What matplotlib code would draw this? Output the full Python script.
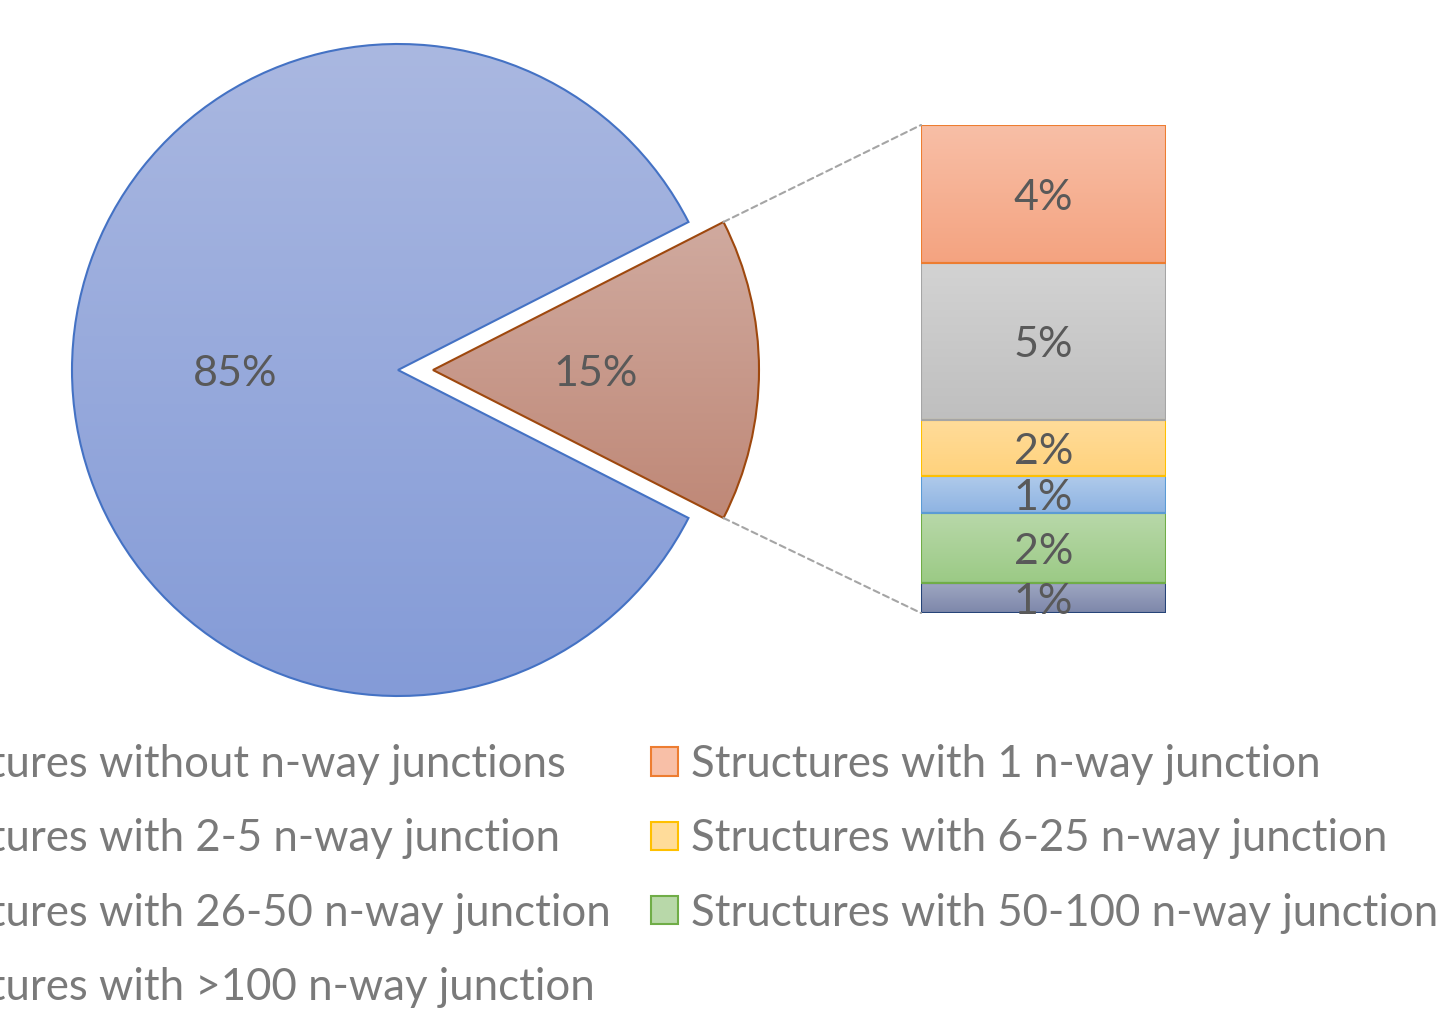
import matplotlib.pyplot as plt
import numpy as np
from matplotlib.patches import ConnectionPatch, Patch
from matplotlib.colors import to_rgb

plt.rcParams['font.family'] = ['Lato', 'DejaVu Sans']

# main pie: structures with / without n-way junctions
pie_labels = ['Structures with n-way junctions', 'Structures without n-way junctions']
pie_values = [15, 85]

# breakdown of the 15% (top to bottom in the bar)
bar_labels = ['Structures with 1 n-way junction', 'Structures with 2-5 n-way junction',
              'Structures with 6-25 n-way junction', 'Structures with 26-50 n-way junction',
              'Structures with 50-100 n-way junction', 'Structures with >100 n-way junction']
bar_values = [4.25, 4.83, 1.72, 1.14, 2.15, 0.92]

# (top, bottom, edge) colours
pie_colors = [('#d0aa9f', '#bf8877', '#9e480e'), ('#aab8e1', '#849bd7', '#4472c4')]
bar_colors = [('#f8bfa7', '#f4a380', '#ed7d31'),
              ('#d3d3d3', '#bfbfbf', '#a5a5a5'),
              ('#ffdc9a', '#ffd27c', '#ffc000'),
              ('#b0cbeb', '#8eb3e2', '#5b9bd5'),
              ('#b8d8a9', '#9bca85', '#70ad47'),
              ('#9ea6c1', '#7d87aa', '#264478')]

W, H = 1440, 1010
PX = 326  # pixels per pie radius


def gradient_fill(ax, patch, top, bottom):
    verts = patch.get_path().transformed(patch.get_patch_transform()).vertices
    x0, y0 = verts.min(axis=0)
    x1, y1 = verts.max(axis=0)
    c0, c1 = np.array(to_rgb(top)), np.array(to_rgb(bottom))
    t = np.linspace(0, 1, 256)[:, None, None]
    img = c0 * (1 - t) + c1 * t
    im = ax.imshow(img, extent=(x0, x1, y0, y1), origin='upper', aspect='auto',
                   interpolation='bilinear', zorder=patch.get_zorder() - 0.1)
    im.set_clip_path(patch)
    patch.set_facecolor('none')


fig = plt.figure(figsize=(W / 100, H / 100), dpi=100)

# pie axes, scaled so that one unit = PX pixels
cx, cy = 398, 370
xl, xr, yl = 1.03, 1.2, 1.03
ax_pie = fig.add_axes([(cx - xl * PX) / W, (H - cy - yl * PX) / H,
                       (xl + xr) * PX / W, 2 * yl * PX / H])

explode = [35 / PX, 0]
start = -pie_values[0] / 100 * 180
wedges, texts, autotexts = ax_pie.pie(
    pie_values, explode=explode, startangle=start, autopct='%.0f%%', pctdistance=0.5,
    wedgeprops=dict(linewidth=1.5), textprops=dict(color='#595959', fontsize=31))
for w, (top, bot, edge) in zip(wedges, pie_colors):
    w.set_edgecolor(edge)
    w.set_zorder(2)
    gradient_fill(ax_pie, w, top, bot)
for t in autotexts:
    t.set_zorder(5)
    t.set_va('center_baseline')
ax_pie.set_xlim(-xl, xr)
ax_pie.set_ylim(-yl, yl)
ax_pie.axis('off')

# stacked bar for the breakdown
bx0, bx1, by0, by1 = 921, 1166, 125, 613
ax_bar = fig.add_axes([bx0 / W, (H - by1) / H, (bx1 - bx0) / W, (by1 - by0) / H])
bottom = 0
for lab, val, (top, bot, edge) in reversed(list(zip(bar_labels, bar_values, bar_colors))):
    bc = ax_bar.bar(0, val, width=1, bottom=bottom, edgecolor=edge, linewidth=1.5, zorder=2)
    gradient_fill(ax_bar, bc.patches[0], top, bot)
    txts = ax_bar.bar_label(bc, labels=[f'{val:.0f}%'], label_type='center',
                            color='#595959', fontsize=31, zorder=5)
    for t in txts:
        t.set_va('center_baseline')
    bottom += val
ax_bar.set_xlim(-0.5, 0.5)
ax_bar.set_ylim(0, sum(bar_values))
ax_bar.axis('off')

# dashed connectors
w = wedges[0]
for ang, yb in [(w.theta2, sum(bar_values)), (w.theta1, 0)]:
    xa = w.center[0] + w.r * np.cos(np.radians(ang))
    ya = w.center[1] + w.r * np.sin(np.radians(ang))
    con = ConnectionPatch(xyA=(xa, ya), coordsA=ax_pie.transData,
                          xyB=(-0.5, yb), coordsB=ax_bar.transData,
                          color='#a5a5a5', linestyle=(0, (3, 2)), linewidth=1.5)
    fig.add_artist(con)

# legend (row-major order, split into two columns)
all_labels = [pie_labels[1]] + bar_labels
all_colors = [pie_colors[1]] + bar_colors
handles = [Patch(facecolor=top, edgecolor=edge, linewidth=1.5, label=lab)
           for lab, (top, bot, edge) in zip(all_labels, all_colors)]
left_col = handles[0::2]
right_col = handles[1::2]
leg_kw = dict(frameon=False, fontsize=31.5, labelcolor='#7a7a7a', borderpad=0,
              borderaxespad=0, handlelength=0.62, handleheight=0.62,
              handletextpad=0.3, labelspacing=0.76)
fig.legend(handles=left_col, loc='upper right', bbox_to_anchor=(611 / W, (H - 744) / H), **leg_kw)
fig.legend(handles=right_col, loc='upper left', bbox_to_anchor=(651 / W, (H - 744) / H), **leg_kw)

fig.savefig('out.png', dpi=100)
